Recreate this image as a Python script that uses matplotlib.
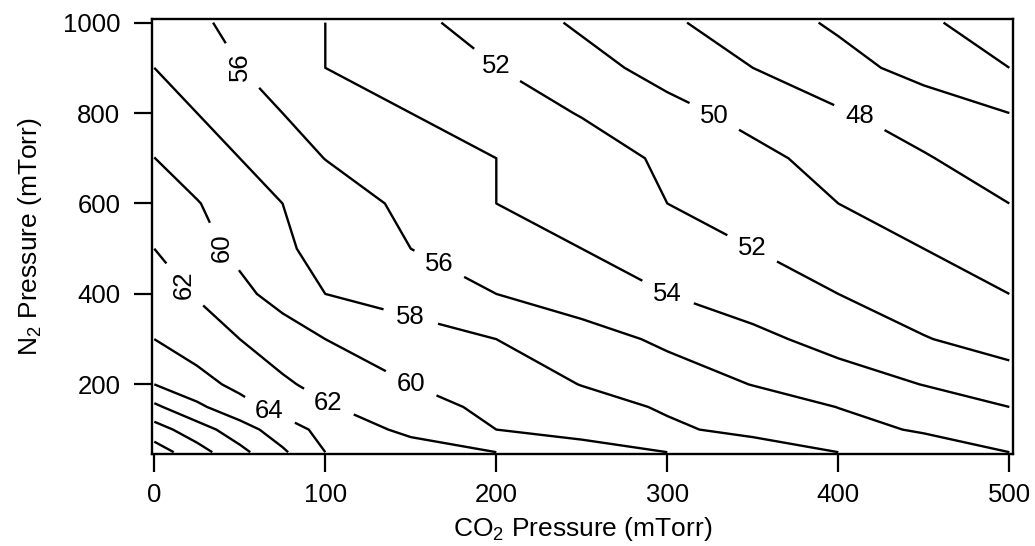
import matplotlib
matplotlib.use("Agg")
import matplotlib.pyplot as plt
import numpy as np

# grid of the measurement (mTorr)
co2 = [0, 25, 50, 75, 100, 150, 200, 250, 300, 350, 400, 450, 500]
n2 = [50, 100, 150, 200, 300, 400, 500, 600, 700, 800, 900, 1000]

# contoured quantity, one row per N2 pressure (bottom row first)
signal = [
    [73.0, 70.8, 68.55, 66.3, 64.0, 63.0, 62.0, 61.0, 60.0, 59.0, 58.0, 57.0, 56.0],
    [70.85, 68.9, 66.9, 64.95, 63.4, 61.5, 60.0, 59.2, 58.3, 57.5, 56.6, 55.8, 54.9],
    [68.4, 66.4, 64.7, 63.3, 62.2, 60.7, 59.56, 58.7, 57.8, 56.9, 55.97, 55.0, 54.0],
    [66.0, 64.7, 63.5, 62.3, 61.4, 60.0, 59.0, 57.95, 56.95, 55.95, 54.95, 53.95, 52.9],
    [64.0, 63.0, 62.0, 61.0, 60.0, 59.0, 58.0, 56.8, 55.65, 54.5, 53.3, 52.1, 51.2],
    [63.0, 61.85, 60.5, 59.25, 58.0, 57.0, 56.0, 55.0, 54.0, 53.0, 52.0, 51.0, 50.0],
    [62.0, 60.7, 59.5, 58.3, 57.4, 56.0, 55.0, 54.0, 53.0, 52.0, 51.0, 50.0, 49.0],
    [61.0, 60.1, 59.0, 58.0, 57.15, 55.5, 54.0, 53.0, 52.0, 51.0, 50.0, 49.0, 48.0],
    [60.02, 59.0, 58.0, 57.0, 55.96, 55.0, 54.0, 52.85, 51.7, 50.5, 49.3, 48.15, 47.0],
    [59.0, 58.0, 57.0, 56.0, 55.3, 54.0, 52.9, 51.9, 50.6, 49.4, 48.2, 47.1, 46.0],
    [58.0, 57.0, 56.02, 55.0, 54.0, 53.0, 52.03, 50.7, 49.3, 48.0, 46.7, 45.3, 44.0],
    [57.0, 56.3, 55.5, 54.8, 54.0, 52.5, 51.1, 49.7, 48.3, 47.0, 45.7, 44.3, 43.0],
]
levels = list(range(44, 74, 2))

plt.rcParams["font.family"] = ["Liberation Sans", "DejaVu Sans"]
plt.rcParams["mathtext.fontset"] = "custom"
plt.rcParams["mathtext.rm"] = "Liberation Sans"
plt.rcParams["mathtext.default"] = "regular"

fig = plt.figure(figsize=(10.35, 5.46), dpi=100)
ax = fig.add_axes([0.1466, 0.1685, 0.8319, 0.7967])

cs = ax.contour(co2, n2, np.array(signal), levels=levels,
                colors="black", linewidths=1.7)

# label anchors (data coords) and text rotation, as placed in the original
spots = [(50, 901, 90), (199.6, 902, 0), (328.9, 802, 0), (413.9, 801, 0),
         (349.8, 502, 0), (300.1, 401, 0), (167, 469, 0), (150.2, 353, 0),
         (150.2, 202, 0), (100.5, 150, 0), (66.7, 136, 0), (16.9, 418, 90),
         (40.4, 503, 90)]
texts = ax.clabel(cs, inline=True, inline_spacing=14, fmt="%d", fontsize=18.5,
                  manual=[(x, y) for x, y, _ in spots])
for t, (_, _, rot) in zip(texts, spots):
    t.set_rotation(rot)

ax.set_xlim(-1.5, 502)
ax.set_ylim(46, 1008)
ax.set_xticks([0, 100, 200, 300, 400, 500])
ax.set_yticks([200, 400, 600, 800, 1000])
for s in ax.spines.values():
    s.set_linewidth(1.7)
ax.tick_params(direction="out", length=13, width=1.6, labelsize=18.5)
ax.tick_params(axis="x", pad=8)
ax.tick_params(axis="y", pad=9.5)

ax.set_xlabel("CO$_2$ Pressure (mTorr)", fontsize=19, labelpad=6)
ax.set_ylabel("N$_2$ Pressure (mTorr)", fontsize=19, labelpad=14)

fig.savefig("out.png", dpi=100)
